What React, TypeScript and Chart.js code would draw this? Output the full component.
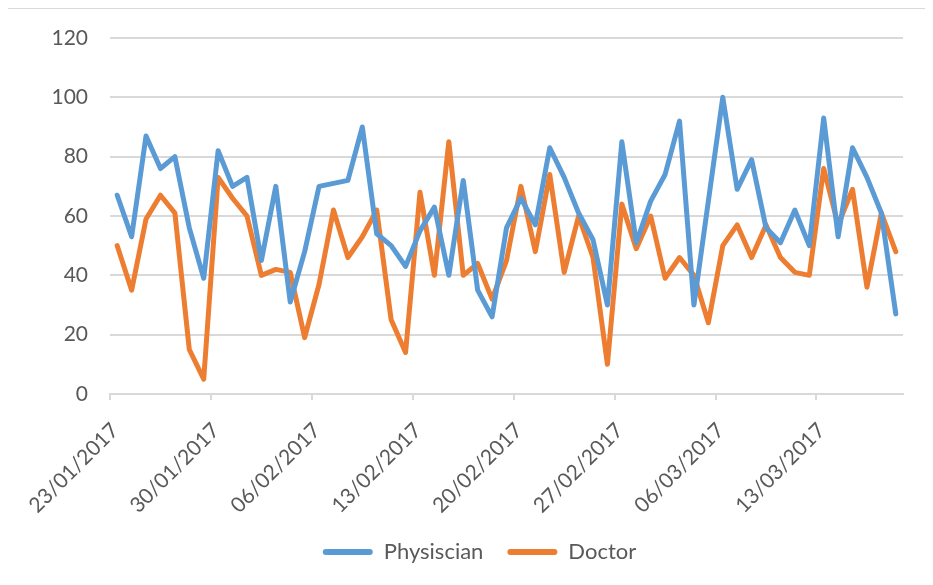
import React, { useEffect, useRef } from 'react';
import { Chart, registerables } from 'chart.js';

Chart.register(...registerables);

const xTickLabels = ['23/01/2017', '30/01/2017', '06/02/2017', '13/02/2017', '20/02/2017', '27/02/2017', '06/03/2017', '13/03/2017'];
const xTickDays = [0, 7, 14, 21, 28, 35, 42, 49];
const dayCount = 55;

const physician = [
  67, 53, 87, 76, 80, 56, 39, 82, 70, 73,
  45, 70, 31, 48, 70, 71, 72, 90, 54, 50,
  43, 55, 63, 40, 72, 35, 26, 56, 66, 57,
  83, 73, 61, 52, 30, 85, 51, 65, 74, 92,
  30, 65, 100, 69, 79, 56, 51, 62, 50, 93,
  53, 83, 73, 61, 27,
];

const doctor = [
  50, 35, 59, 67, 61, 15, 5, 73, 66, 60,
  40, 42, 41, 19, 37, 62, 46, 53, 62, 25,
  14, 68, 40, 85, 40, 44, 32, 45, 70, 48,
  74, 41, 60, 46, 10, 64, 49, 60, 39, 46,
  40, 24, 50, 57, 46, 57, 46, 41, 40, 76,
  57, 69, 36, 61, 48,
];

const seriesNames = ['Physiscian', 'Doctor'];
const seriesColors = ['#5B9BD5', '#ED7D31'];

const textColor = '#595959';
const gridColor = '#d9d9d9';
const fontFamily = 'Lato, "Open Sans", sans-serif';

const legendShift = {
  id: 'legendShift',
  afterLayout(chart: any) {
    const lg = chart.legend;
    if (lg) {
      lg.left += 24;
      lg.right += 24;
    }
  },
};

export default function App() {
  const ref = useRef<HTMLCanvasElement>(null);

  useEffect(() => {
    if (!ref.current) return;
    const toPoints = (arr: number[]) => arr.map((y, i) => ({ x: i + 0.5, y }));
    const mk = (idx: number, arr: number[]) => ({
      label: seriesNames[idx],
      data: toPoints(arr),
      borderColor: seriesColors[idx],
      backgroundColor: seriesColors[idx],
      borderWidth: 5,
      pointRadius: 0,
      tension: 0,
      borderCapStyle: 'round',
      borderJoinStyle: 'round',
    });
    const chart = new Chart(ref.current, {
      type: 'line',
      data: { datasets: [mk(0, physician), mk(1, doctor)] as any },
      plugins: [legendShift],
      options: {
        responsive: false,
        animation: false,
        layout: { padding: { left: 0, right: 30, top: 30, bottom: 4 } },
        scales: {
          x: {
            type: 'linear',
            min: 0,
            max: dayCount,
            afterBuildTicks: (s: any) => {
              s.ticks = xTickDays.map((v) => ({ value: v }));
            },
            ticks: {
              autoSkip: false,
              maxRotation: 45,
              minRotation: 45,
              padding: 18,
              labelOffset: 5,
              color: textColor,
              font: { size: 21, family: fontFamily },
              callback: (_v: any, i: number) => xTickLabels[i],
            },
            grid: { drawOnChartArea: false, drawTicks: true, tickLength: 6, color: gridColor, lineWidth: 2 },
            border: { color: gridColor, width: 2 },
            afterFit: (s: any) => {
              s.height = 123;
              s.paddingLeft = 0;
              s.paddingRight = 0;
            },
          },
          y: {
            min: 0,
            max: 120,
            ticks: { stepSize: 20, padding: 22, color: textColor, font: { size: 21, family: fontFamily } },
            grid: { drawTicks: false, color: gridColor, lineWidth: 2 },
            border: { display: false },
            afterFit: (s: any) => {
              s.width = 102;
              s.paddingTop = 0;
              s.paddingBottom = 0;
            },
          },
        },
        plugins: {
          tooltip: { enabled: false },
          legend: {
            position: 'bottom',
            labels: {
              boxWidth: 50,
              boxHeight: 6,
              padding: 24,
              useBorderRadius: true,
              borderRadius: 3,
              color: textColor,
              font: { size: 22, family: fontFamily },
              generateLabels: (c: any) =>
                Chart.defaults.plugins.legend.labels.generateLabels(c).map((l: any) => ({ ...l, lineWidth: 0 })),
            },
          },
        },
      } as any,
    });
    return () => chart.destroy();
  }, []);

  return (
    <div style={{ position: 'relative', width: 925, height: 569 }}>
      <canvas ref={ref} width={925} height={569} style={{ display: 'block' }} />
      <div
        style={{
          position: 'absolute',
          left: -2,
          top: -1,
          width: 927,
          height: 578,
          borderTop: `2px solid ${gridColor}`,
          borderLeft: `2px solid ${gridColor}`,
          boxSizing: 'border-box',
          pointerEvents: 'none',
        }}
      />
    </div>
  );
}
